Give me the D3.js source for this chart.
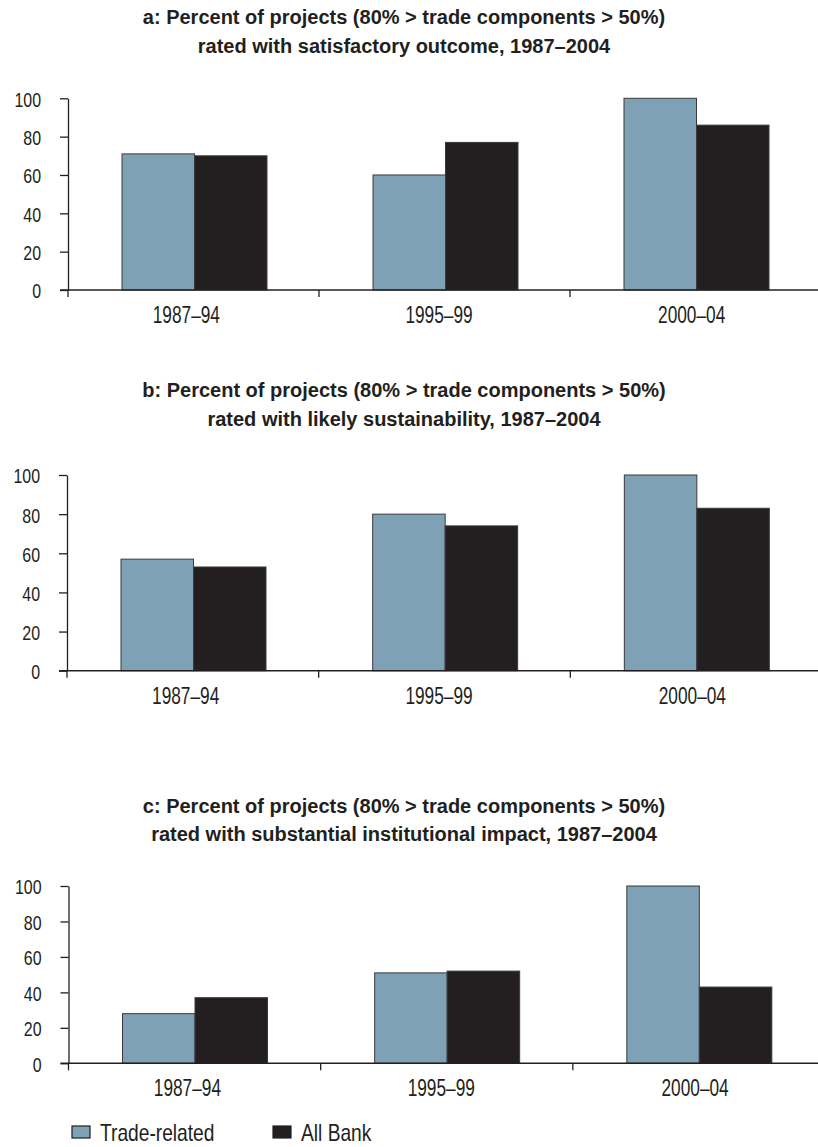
<!DOCTYPE html>
<html>
<head>
<meta charset="utf-8">
<script src="https://cdn.jsdelivr.net/npm/d3@7"></script>
<style>
	body { margin: 0; background: #fff; }
	svg text { font-family: "Liberation Sans", Arial, sans-serif; fill: #231f20; }
</style>
</head>
<body>
<div id="chart"></div>
<script>
// data
const categories = ["1987–94", "1995–99", "2000–04"];
const seriesNames = ["Trade-related", "All Bank"];
const yTicks = [0, 20, 40, 60, 80, 100];

const titlesA = ["a: Percent of projects (80% > trade components > 50%)", "rated with satisfactory outcome, 1987–2004"];
const titlesB = ["b: Percent of projects (80% > trade components > 50%)", "rated with likely sustainability, 1987–2004"];
const titlesC = ["c: Percent of projects (80% > trade components > 50%)", "rated with substantial institutional impact, 1987–2004"];

const tradeA = [71, 60, 100];
const bankA = [70, 77, 86];
const tradeB = [57, 80, 100];
const bankB = [53, 74, 83];
const tradeC = [28, 51, 100];
const bankC = [37, 52, 43];

const width = 818;
const height = 1147;
const ink = "#231f20";
const color = d3.scaleOrdinal().domain(seriesNames).range(["#7fa1b5", "#231f20"]);

// layout of each panel
const panels = [
	{ titles: titlesA, series: [tradeA, bankA], titleY: 17, top: 98.3, bottom: 290, left: 68, right: 821 },
	{ titles: titlesB, series: [tradeB, bankB], titleY: 390, top: 475, bottom: 670.7, left: 67, right: 822 },
	{ titles: titlesC, series: [tradeC, bankC], titleY: 805.7, top: 886, bottom: 1063.3, left: 68.5, right: 825 }
];

const svg = d3.select("#chart").append("svg")
	.attr("width", width)
	.attr("height", height)
	.attr("viewBox", [0, 0, width, height]);

panels.forEach(drawPanel);
drawLegend();

// squeeze text horizontally around its own x, to mimic the condensed face
function condense(sel, s) {
	sel.attr("transform", function () {
		const x0 = +this.getAttribute("x") || 0;
		return `translate(${x0},0) scale(${s},1) translate(${-x0},0)`;
	});
}

function drawPanel(p) {
	const g = svg.append("g");

	const x = d3.scaleBand().domain(categories).range([p.left, p.right]);
	const xs = d3.scaleBand().domain(seriesNames).range([54, 199]);
	const y = d3.scaleLinear().domain([0, 100]).range([p.bottom, p.top]);
	const xLabel = d3.scaleBand().domain(categories).range([p.left - 8, p.right - 3]);

	g.selectAll("text.title")
		.data(p.titles)
		.join("text")
		.attr("class", "title")
		.attr("x", 404)
		.attr("y", (d, i) => p.titleY + i * 28.5)
		.attr("dy", "0.35em")
		.attr("text-anchor", "middle")
		.style("font-size", "20px")
		.style("font-weight", "bold")
		.text(d => d);

	const rows = categories.map((c, i) => ({ cat: c, values: seriesNames.map((s, j) => ({ key: s, value: p.series[j][i] })) }));

	g.selectAll("g.group")
		.data(rows)
		.join("g")
		.attr("class", "group")
		.attr("transform", d => `translate(${x(d.cat)},0)`)
		.selectAll("rect")
		.data(d => d.values)
		.join("rect")
		.attr("x", d => xs(d.key))
		.attr("y", d => y(d.value))
		.attr("width", xs.bandwidth())
		.attr("height", d => y(0) - y(d.value))
		.attr("fill", d => color(d.key))
		.attr("stroke", "#3a3a3c")
		.attr("stroke-width", 1);

	// y axis
	const yAxis = g.append("g")
		.attr("transform", `translate(${p.left},0)`)
		.call(d3.axisLeft(y).tickValues(yTicks).tickSize(8).tickSizeOuter(0).tickPadding(19));
	yAxis.select(".domain").attr("stroke", ink).attr("stroke-width", 1.3);
	yAxis.selectAll(".tick line").attr("stroke", ink).attr("stroke-width", 1.3);
	yAxis.selectAll("text")
		.attr("dy", "0.38em")
		.style("font-size", "21px")
		.call(condense, 0.76);

	// baseline and category boundary ticks
	g.append("line")
		.attr("x1", p.left - 8)
		.attr("x2", width)
		.attr("y1", y(0))
		.attr("y2", y(0))
		.attr("stroke", ink)
		.attr("stroke-width", 1.5);

	g.selectAll("line.sep")
		.data(categories)
		.join("line")
		.attr("class", "sep")
		.attr("x1", d => x(d))
		.attr("x2", d => x(d))
		.attr("y1", y(0))
		.attr("y2", y(0) + 7)
		.attr("stroke", ink)
		.attr("stroke-width", 1.3);

	const xAxis = g.append("g")
		.attr("transform", `translate(0,${y(0)})`)
		.call(d3.axisBottom(xLabel).tickSize(0).tickPadding(16));
	xAxis.select(".domain").remove();
	xAxis.selectAll("text")
		.style("font-size", "24px")
		.call(condense, 0.72);
}

function drawLegend() {
	const legend = svg.append("g")
		.attr("transform", "translate(72,1132)");

	const items = legend.selectAll("g")
		.data(seriesNames)
		.join("g")
		.attr("transform", (d, i) => `translate(${i * 201},0)`);

	items.append("rect")
		.attr("x", 0)
		.attr("y", -6)
		.attr("width", 18)
		.attr("height", 12)
		.attr("fill", d => color(d))
		.attr("stroke", ink)
		.attr("stroke-width", 1.2);

	items.append("text")
		.attr("x", 28)
		.attr("y", 0)
		.attr("dy", "0.36em")
		.style("font-size", "24px")
		.call(condense, 0.8)
		.text(d => d);
}
</script>
</body>
</html>
